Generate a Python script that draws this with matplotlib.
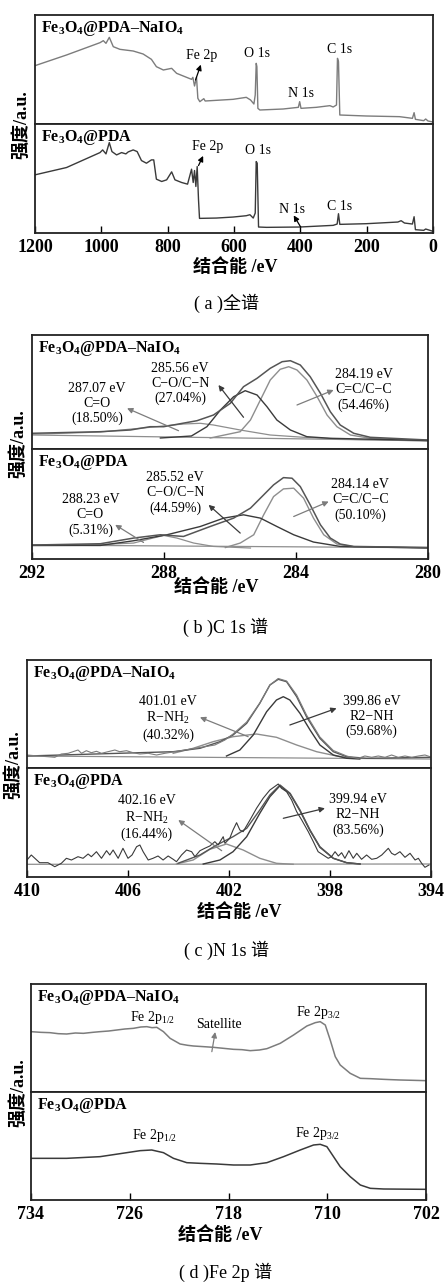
import matplotlib
matplotlib.use('Agg')
import matplotlib.pyplot as plt

plt.rcParams['font.family'] = ['Liberation Serif', 'Noto Sans CJK SC', 'DejaVu Sans']
plt.rcParams['mathtext.fontset'] = 'custom'
plt.rcParams['mathtext.rm'] = 'Liberation Serif'
plt.rcParams['mathtext.it'] = 'Liberation Serif:italic'
plt.rcParams['mathtext.bf'] = 'Liberation Serif:bold'

# ---------------- DATA ----------------
# (a) survey spectra
survey_E_naio4 = [1200, 1105, 1004, 994, 986, 976, 964, 944, 904, 874, 849, 834, 813, 788, 773, 743, 728, 724, 719,
                  713, 709, 703, 691, 687, 603, 563, 550, 540, 536, 533, 531, 528, 522, 452, 406, 402, 398, 352,
                  311, 301, 291, 288, 285, 281, 201, 101, 62, 57, 53, 28, 22, 15, 0]
survey_I_naio4 = [175, 207, 244, 250, 242, 260, 232, 224, 219, 210, 194, 172, 162, 167, 152, 140, 134, 140, 114,
                  140, 77, 67, 76, 69, 74, 80, 72, 60, 87, 182, 172, 47, 42, 45, 50, 67, 47, 50,
                  55, 51, 57, 197, 187, 27, 24, 22, 17, 34, 14, 10, 15, 9, 6]
survey_E_pda = [1200, 1105, 1004, 996, 986, 976, 968, 954, 939, 926, 919, 904, 892, 879, 864, 849, 842, 834, 818,
                803, 788, 778, 758, 740, 728, 723, 719, 715, 711, 707, 704, 653, 603, 563, 552, 542, 536, 533,
                530, 526, 502, 402, 301, 289, 285, 281, 201, 106, 96, 86, 62, 57, 53, 28, 22, 0]
survey_I_pda = [175, 197, 242, 250, 238, 272, 245, 235, 242, 238, 244, 250, 245, 218, 210, 220, 220, 162, 155,
                160, 184, 160, 152, 147, 192, 152, 188, 140, 200, 100, 44, 45, 48, 52, 55, 45, 60, 215,
                210, 18, 17, 18, 23, 27, 58, 26, 28, 33, 37, 30, 27, 49, 10, 8, 12, 5]

# (b) C 1s
c1s_env_E_naio4 = [292.00, 289.93, 289.02, 288.42, 288.01, 287.00, 286.50, 285.99, 285.59, 285.18, 284.78,
                   284.42, 284.17, 283.87, 283.57, 283.26, 282.96, 282.66, 282.25, 281.75, 280.00]
c1s_env_I_naio4 = [15.7, 17.3, 19.0, 22.3, 22.3, 28.3, 34.0, 45.7, 62.3, 70.7, 80.7,
                   87.3, 88.3, 84.0, 72.3, 55.7, 37.3, 24.0, 15.7, 11.7, 9.0]
c1s_cc_E_naio4 = [286.60, 285.69, 285.38, 285.08, 284.78, 284.48, 284.22, 283.97, 283.67, 283.36, 283.06,
                  282.76, 282.35, 281.75, 280.00]
c1s_cc_I_naio4 = [11.0, 17.3, 29.0, 49.0, 69.0, 79.7, 82.3, 79.0, 69.0, 52.3, 34.0, 22.3, 14.0, 10.7, 8.5]
c1s_co_E_naio4 = [288.11, 287.17, 286.70, 286.29, 285.89, 285.54, 285.18, 284.88, 284.58, 284.17, 283.67,
                  282.96, 280.00]
c1s_co_I_naio4 = [11.0, 13.0, 22.3, 39.0, 52.3, 58.3, 54.0, 42.3, 29.0, 19.0, 12.3, 10.7, 8.5]
c1s_c_o_E_naio4 = [292.00, 289.93, 288.42, 287.41, 286.90, 286.50, 285.69, 284.78, 283.77, 282.45, 280.00]
c1s_c_o_I_naio4 = [14.7, 17.0, 21.7, 25.0, 25.7, 24.0, 19.0, 14.0, 11.7, 9.7, 8.0]
c1s_base_E = [292.0, 280.0]
c1s_base_I_naio4 = [14.0, 8.3]

c1s_env_E_pda = [292.00, 289.93, 288.92, 288.11, 287.41, 286.60, 285.89, 285.38, 284.98, 284.68, 284.38,
                 284.12, 283.87, 283.57, 283.26, 282.96, 282.66, 282.25, 280.00]
c1s_env_I_pda = [14.0, 15.3, 21.0, 24.3, 22.6, 32.6, 41.0, 51.0, 64.3, 74.3, 81.6,
                 81.0, 72.6, 54.3, 34.3, 21.0, 15.0, 12.6, 11.5]
c1s_cc_E_pda = [286.14, 285.69, 285.28, 284.98, 284.68, 284.38, 284.07, 283.77, 283.47, 283.16, 282.76,
                282.25, 280.00]
c1s_cc_I_pda = [11.5, 16.0, 24.3, 44.3, 62.6, 70.3, 71.0, 61.0, 41.0, 24.3, 15.0, 12.3, 11.5]
c1s_co_E_pda = [292.00, 289.93, 288.92, 287.91, 286.90, 286.19, 285.59, 285.08, 284.58, 284.07, 283.47,
                282.66, 280.00]
c1s_co_I_pda = [13.5, 13.6, 18.3, 24.3, 32.6, 41.0, 44.3, 41.0, 32.6, 24.3, 17.0, 12.6, 11.0]
c1s_c_o_E_pda = [292.00, 289.93, 288.92, 288.42, 288.01, 287.61, 287.10, 286.50, 285.38]
c1s_c_o_I_pda = [14.0, 14.5, 16.0, 20.3, 23.6, 21.0, 16.0, 12.6, 11.0]
c1s_base_I_pda = [14.0, 11.3]

# (c) N 1s
n1s_raw_E_naio4 = [410.0, 409.56, 409.17, 408.90, 408.64, 408.37, 408.18, 407.98, 407.84, 407.65, 407.45,
                   407.25, 407.05, 406.79, 406.52, 406.33, 406.06, 405.80, 405.53, 405.20, 404.87, 404.54,
                   404.15, 403.75, 403.35, 402.96, 402.56, 402.16, 401.84, 401.30, 400.78, 400.38, 400.05,
                   399.72, 399.32, 398.93, 398.40, 397.87, 397.34, 397.14, 396.88, 396.62, 396.35, 396.09,
                   395.82, 395.56, 395.30, 395.03, 394.76, 394.50, 394.24, 394.04]
n1s_raw_I_naio4 = [13, 12, 11.3, 10.7, 14, 14.7, 16.3, 18, 14.7, 17.3, 15.3,
                   16.7, 14.7, 16.3, 18, 16.3, 17.3, 15.3, 14, 14.7, 13, 14.7,
                   16.3, 18, 19.7, 21.3, 23, 28, 34, 46, 65, 83, 89.5,
                   87, 73, 53, 31, 17.5, 12, 10.7, 9.7, 12, 10.7, 12,
                   10.7, 13, 10.7, 12, 10.7, 12, 13, 11.3]
n1s_env_E_naio4 = [410.0, 404.21, 403.15, 402.36, 401.84, 401.30, 400.78, 400.38, 400.05, 399.72, 399.32,
                   398.93, 398.40, 397.87, 397.34, 396.55, 394.04]
n1s_env_I_naio4 = [12, 16.3, 19.7, 26.3, 33, 44.7, 64.7, 83, 88.7, 86.3, 71.3, 51.3, 29.7, 16.3, 11.3, 9.7, 10.7]
n1s_r2nh_E_naio4 = [402.10, 401.57, 401.04, 400.51, 400.12, 399.85, 399.59, 399.19, 398.79, 398.40, 397.87,
                    397.34, 396.82]
n1s_r2nh_I_naio4 = [12, 18, 33, 56.3, 68, 71.3, 68, 54.7, 38, 23, 13, 9.7, 9]
n1s_rnh2_E_naio4 = [404.21, 403.42, 402.63, 401.84, 400.91, 400.12, 399.32, 398.53, 397.74, 397.08]
n1s_rnh2_I_naio4 = [14.7, 19.7, 26.3, 31.3, 34, 30.7, 23, 16.3, 12, 9.7]
n1s_base_E = [410.0, 394.0]
n1s_base_I_naio4 = [12, 9]

n1s_raw_E_pda = [410.0, 409.83, 409.50, 409.17, 408.90, 408.64, 408.44, 408.24, 407.98, 407.78, 407.58,
                 407.45, 407.25, 407.05, 406.85, 406.72, 406.59, 406.39, 406.20, 406.00, 405.84, 405.66,
                 405.53, 405.40, 405.20, 405.01, 404.81, 404.61, 404.41, 404.21, 404.08, 403.88, 403.68,
                 403.48, 403.35, 403.15, 402.96, 402.76, 402.56, 402.43, 402.23, 402.16, 401.97, 401.84,
                 401.70, 401.57, 401.44, 401.17, 400.91, 400.65, 400.38, 400.05, 399.92, 399.72, 399.52,
                 399.32, 399.12, 398.86, 398.66, 398.47, 398.27, 398.07, 397.94, 397.80, 397.67, 397.54,
                 397.41, 397.25, 397.08, 396.94, 396.75, 396.55, 396.35, 396.15, 395.95, 395.69, 395.56,
                 395.43, 395.23, 395.03, 394.83, 394.63, 394.50, 394.37, 394.24, 394.08]
n1s_raw_I_pda = [17, 22, 14.3, 14.3, 10.3, 13.7, 18.7, 17, 20.3, 18.7, 23,
                 20.3, 25.3, 18.7, 26.3, 22, 27, 18.7, 28.7, 18.7, 22, 30.3,
                 32, 25.3, 17, 18.7, 21, 17, 21, 17.7, 15.3, 22, 27,
                 25.3, 20.3, 26.3, 28.7, 31, 35.3, 32, 40.3, 33.7, 38.7, 47,
                 54.3, 47, 45.3, 57, 68.7, 78.7, 87, 93, 88.7, 85.3, 77,
                 65.3, 57, 45.3, 35.3, 25.3, 22, 18.7, 20.3, 25.3, 21, 24.3,
                 18.7, 26.3, 18.7, 23.7, 17.7, 22, 17.7, 18.7, 22, 28.7, 23.7,
                 22, 25.3, 19.7, 23.7, 17, 18.7, 13.7, 9.7, 12]
n1s_env_E_pda = [404.02, 403.15, 402.49, 401.84, 401.30, 400.78, 400.38, 399.98, 399.58, 399.19, 398.79,
                 398.40, 397.87, 397.34, 396.81]
n1s_env_I_pda = [13.7, 22, 32, 40.3, 48.7, 67, 82, 92, 83.7, 67, 47, 30.3, 18.7, 14.3, 13]
n1s_r2nh_E_pda = [403.02, 402.36, 401.84, 401.30, 400.78, 400.38, 399.98, 399.58, 399.19, 398.79, 398.40,
                  397.87, 397.34, 396.81]
n1s_r2nh_I_pda = [13, 17, 25.3, 40.3, 63.7, 80.3, 91.3, 83, 66.3, 46.3, 29.7, 18.7, 14.3, 13]
n1s_rnh2_E_pda = [404.08, 403.42, 402.76, 402.10, 401.44, 400.78, 400.12, 399.46]
n1s_rnh2_I_pda = [13, 17, 27.7, 33, 27, 18.7, 13.7, 12.7]
n1s_base_I_pda = [12.7, 13]

# (d) Fe 2p
fe_E_naio4 = [734.0, 733.2, 732.46, 731.8, 731.11, 730.4, 729.76, 729.0, 728.41, 727.7, 727.05, 726.4, 725.70,
              725.1, 724.62, 724.2, 723.81, 723.27, 722.73, 721.92, 721.3, 720.84, 720.0, 719.22, 718.4, 717.59,
              716.9, 716.24, 715.5, 714.89, 713.81, 712.73, 711.65, 710.97, 710.57, 710.16, 709.76, 709.35,
              708.95, 708.14, 707.32, 706.5, 705.43, 704.8, 704.08, 703.0, 702.0]
fe_I_naio4 = [181, 179, 178, 175, 174, 177, 176, 179, 181, 183, 186, 189, 191,
              195, 196, 193, 194, 181, 161, 144, 140, 138, 136, 134, 131, 128,
              127, 124, 126, 130, 146, 171, 198, 208, 211, 201, 156, 106,
              81, 56, 41, 40, 38, 37, 36, 35, 34]
fe_E_pda = [734.0, 731.11, 728.41, 726.24, 725.16, 724.22, 723.27, 722.46, 721.38, 720.30, 718.95, 717.59,
            716.24, 714.89, 713.54, 712.19, 711.11, 710.57, 710.03, 709.49, 708.95, 708.14, 707.32, 706.51,
            705.43, 702.0]
fe_I_pda = [125, 125, 130, 142, 148, 150, 142, 125, 112, 110, 108, 105,
            105, 112, 130, 150, 165, 167, 160, 130, 100, 70, 45, 35, 33, 32]

# ---------------- STYLE ----------------
W, H = 447, 1284
fig = plt.figure(figsize=(W / 100, H / 100), dpi=100)
fig.patch.set_facecolor('white')

GRAY = '#7c7c7c'
DARK = '#3a3a3a'
LGRAY = '#8e8e8e'
LBL_NAIO4 = r'Fe$_\mathbf{3}$O$_\mathbf{4}$@PDA–NaIO$_\mathbf{4}$'
LBL_PDA = r'Fe$_\mathbf{3}$O$_\mathbf{4}$@PDA'


def fx(x):
    return x / W


def fy(y):
    return 1 - y / H


def add_pair(left, right, top, mid, bottom, xlim, ylim_top, ylim_bot, ticks):
    axt = fig.add_axes([fx(left), fy(mid), (right - left) / W, (mid - top) / H])
    axb = fig.add_axes([fx(left), fy(bottom), (right - left) / W, (bottom - mid) / H])
    for ax, yl in ((axt, ylim_top), (axb, ylim_bot)):
        ax.set_xlim(*xlim)
        ax.set_ylim(*yl)
        ax.set_yticks([])
        for s in ax.spines.values():
            s.set_linewidth(1.3)
            s.set_color('#222222')
    axt.set_xticks([])
    axb.set_xticks(ticks)
    axb.set_xticklabels([str(t) for t in ticks])
    axb.tick_params(axis='x', direction='in', length=5, width=1.0, pad=4, labelsize=13)
    for lab in axb.get_xticklabels():
        lab.set_fontweight('bold')
    axt.text(0.015, 0.965, LBL_NAIO4, transform=axt.transAxes, ha='left', va='top',
             fontsize=11.5, fontweight='bold')
    axb.text(0.015, 0.965, LBL_PDA, transform=axb.transAxes, ha='left', va='top',
             fontsize=11.5, fontweight='bold')
    return axt, axb


def labels(xl_x, xl_y, cap_x, cap_y, cap, yl_x, yl_y):
    fig.text(fx(xl_x), fy(xl_y), '结合能 /eV', ha='center', va='center', fontsize=13, fontweight='bold')
    fig.text(fx(cap_x), fy(cap_y), cap, ha='center', va='center', fontsize=13)
    fig.text(fx(yl_x), fy(yl_y), '强度/a.u.', ha='center', va='center', fontsize=13, fontweight='bold',
             rotation=90)


def arrow(ax, tail, head, color):
    ax.annotate('', xy=head, xytext=tail,
                arrowprops=dict(arrowstyle='-|>', color=color, lw=0.9, mutation_scale=8,
                                shrinkA=0, shrinkB=0))


ANN = dict(ha='center', va='center', fontsize=10, linespacing=1.2)

# ---------------- (a) survey ----------------
at, ab = add_pair(35, 433, 15, 124, 233, (1200, 0), (0, 327), (0, 328), [1200, 1000, 800, 600, 400, 200, 0])
at.plot(survey_E_naio4, survey_I_naio4, color=GRAY, lw=1.0)
ab.plot(survey_E_pda, survey_I_pda, color=DARK, lw=1.0)
at.text(698, 207, 'Fe 2p', **ANN)
arrow(at, (716, 132), (700, 178), 'black')
at.text(532, 212, 'O 1s', **ANN)
at.text(399, 91, 'N 1s', **ANN)
at.text(283, 224, 'C 1s', **ANN)
ab.text(681, 260, 'Fe 2p', **ANN)
arrow(ab, (707, 203), (693, 232), 'black')
ab.text(527, 247, 'O 1s', **ANN)
ab.text(424, 72, 'N 1s', **ANN)
arrow(ab, (399, 18), (420, 53), 'black')
ab.text(283, 80, 'C 1s', **ANN)
labels(235, 267, 226, 303, '( a )全谱', 21, 125)

# ---------------- (b) C 1s ----------------
bt, bb = add_pair(32, 428, 335, 449, 559, (292, 280), (0, 114), (0, 110.3), [292, 288, 284, 280])
for ax, base, env, cc, co, c_o in (
        (bt, c1s_base_I_naio4, (c1s_env_E_naio4, c1s_env_I_naio4), (c1s_cc_E_naio4, c1s_cc_I_naio4),
         (c1s_co_E_naio4, c1s_co_I_naio4), (c1s_c_o_E_naio4, c1s_c_o_I_naio4)),
        (bb, c1s_base_I_pda, (c1s_env_E_pda, c1s_env_I_pda), (c1s_cc_E_pda, c1s_cc_I_pda),
         (c1s_co_E_pda, c1s_co_I_pda), (c1s_c_o_E_pda, c1s_c_o_I_pda))):
    ax.plot(c1s_base_E, base, color=LGRAY, lw=0.9)
    ax.plot(*c_o, color=LGRAY, lw=0.9)
    ax.plot(*cc, color=LGRAY, lw=1.0)
    ax.plot(*co, color=DARK, lw=1.0)
    ax.plot(*env, color='#555555', lw=1.1)
bt.text(290.03, 45.7, '287.07 eV\nC=O\n(18.50%)', **ANN)
arrow(bt, (287.56, 18.3), (289.12, 40.7), GRAY)
bt.text(287.51, 65.7, '285.56 eV\nC−O/C−N\n(27.04%)', **ANN)
arrow(bt, (285.59, 31.7), (286.35, 64), DARK)
bt.text(281.95, 59, '284.19 eV\nC=C/C−C\n(54.46%)', **ANN)
arrow(bt, (283.97, 44), (282.86, 59), GRAY)
bb.text(290.23, 44.3, '288.23 eV\nC=O\n(5.31%)', **ANN)
arrow(bb, (288.62, 16.6), (289.48, 34.3), GRAY)
bb.text(287.66, 66, '285.52 eV\nC−O/C−N\n(44.59%)', **ANN)
arrow(bb, (285.69, 26), (286.65, 54.3), DARK)
bb.text(282.05, 59.3, '284.14 eV\nC=C/C−C\n(50.10%)', **ANN)
arrow(bb, (284.07, 42.6), (283.01, 57.6), GRAY)
labels(216, 587, 226, 627, '( b )C 1s 谱', 18, 444)

# ---------------- (c) N 1s ----------------
ct, cb = add_pair(27, 431, 660, 768, 877, (410, 394), (0, 108), (0, 109), [410, 406, 402, 398, 394])
ct.plot(n1s_base_E, n1s_base_I_naio4, color=LGRAY, lw=0.9)
ct.plot(n1s_rnh2_E_naio4, n1s_rnh2_I_naio4, color=LGRAY, lw=1.0)
ct.plot(n1s_r2nh_E_naio4, n1s_r2nh_I_naio4, color=DARK, lw=1.0)
ct.plot(n1s_env_E_naio4, n1s_env_I_naio4, color='#555555', lw=1.0)
ct.plot(n1s_raw_E_naio4, n1s_raw_I_naio4, color=GRAY, lw=0.8)
cb.plot(n1s_base_E, n1s_base_I_pda, color=LGRAY, lw=0.9)
cb.plot(n1s_rnh2_E_pda, n1s_rnh2_I_pda, color=LGRAY, lw=1.0)
cb.plot(n1s_r2nh_E_pda, n1s_r2nh_I_pda, color=DARK, lw=1.0)
cb.plot(n1s_env_E_pda, n1s_env_I_pda, color='#555555', lw=1.0)
cb.plot(n1s_raw_E_pda, n1s_raw_I_pda, color=DARK, lw=0.8)
ct.text(404.42, 49.7, '401.01 eV\nR−NH$_2$\n(40.32%)', **ANN)
arrow(ct, (401.24, 31.3), (403.15, 50.7), GRAY)
ct.text(396.35, 51.3, '399.86 eV\nR2−NH\n(59.68%)', **ANN)
arrow(ct, (399.59, 43), (397.74, 59.7), DARK)
cb.text(405.26, 59.3, '402.16 eV\nR−NH$_2$\n(16.44%)', **ANN)
arrow(cb, (402.29, 26.3), (404.01, 57), GRAY)
cb.text(396.88, 62, '399.94 eV\nR2−NH\n(83.56%)', **ANN)
arrow(cb, (399.85, 58.7), (398.2, 68.7), DARK)
labels(239, 912, 226, 950, '( c )N 1s 谱', 13, 765)

# ---------------- (d) Fe 2p ----------------
dt, db = add_pair(31, 426, 984, 1092, 1200, (734, 702), (0, 324), (0, 324), [734, 726, 718, 710, 702])
dt.plot(fe_E_naio4, fe_I_naio4, color=GRAY, lw=1.1)
db.plot(fe_E_pda, fe_I_pda, color=DARK, lw=1.1)
dt.text(724.14, 223, 'Fe 2p$_{1/2}$', **ANN)
dt.text(718.81, 201, 'Satellite', **ANN)
arrow(dt, (719.35, 121), (719.08, 180), GRAY)
dt.text(710.70, 238, 'Fe 2p$_{3/2}$', **ANN)
db.text(724.03, 193, 'Fe 2p$_{1/2}$', **ANN)
db.text(710.78, 198, 'Fe 2p$_{3/2}$', **ANN)
labels(220, 1235, 226, 1272, '( d )Fe 2p 谱', 18, 1093)

fig.savefig('out.png', dpi=100)
